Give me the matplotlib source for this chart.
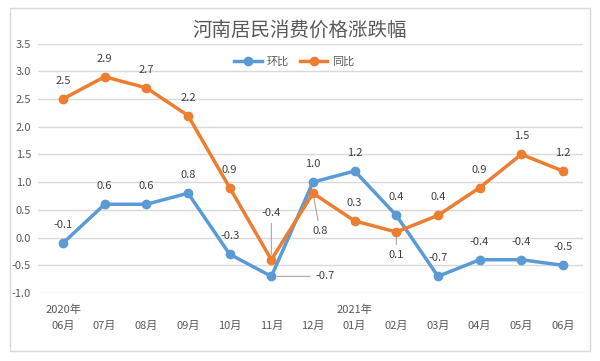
import matplotlib.pyplot as plt
from matplotlib.patches import Rectangle

plt.rcParams['font.family'] = ['Noto Sans CJK SC', 'DejaVu Sans']

# ---- data ----
months = ['06月', '07月', '08月', '09月', '10月', '11月', '12月',
          '01月', '02月', '03月', '04月', '05月', '06月']
years = {0: '2020年', 7: '2021年'}
huanbi = [-0.1, 0.6, 0.6, 0.8, -0.3, -0.7, 1.0, 1.2, 0.4, -0.7, -0.4, -0.4, -0.5]
tongbi = [2.5, 2.9, 2.7, 2.2, 0.9, -0.4, 0.8, 0.3, 0.1, 0.4, 0.9, 1.5, 1.2]

blue = '#5B9BD5'
orange = '#ED7D31'
txt = '#404040'
tick_c = '#595959'

fig = plt.figure(figsize=(6, 3.61), dpi=100)
ax = fig.add_axes([38/600, 1 - 293/361, 545/600, 249.5/361])

# outer chart border
fig.patches.append(Rectangle((10/600, 1 - 351/361), 580/600, 343/361,
                             transform=fig.transFigure, fill=False,
                             edgecolor='#d9d9d9', lw=1))

x = list(range(len(months)))
ax.plot(x, huanbi, color=blue, lw=2.5, marker='o', ms=6, label='环比', zorder=3)
ax.plot(x, tongbi, color=orange, lw=2.5, marker='o', ms=6, label='同比', zorder=3)

# data labels: default 18 px above, a few moved with leader lines
lead = dict(arrowstyle='-', color='#a6a6a6', lw=0.8, shrinkA=2, shrinkB=4)
special_t = {5: (0, 47), 6: (7, -38), 8: (0, -23)}
special_h = {5: (54, 0)}
for i, v in enumerate(tongbi):
    off = special_t.get(i, (0, 18))
    ap = lead if i in special_t else None
    ax.annotate(f'{v:.1f}', (i, v), xytext=off, textcoords='offset pixels',
                ha='center', va='center', fontsize=8, color=txt, arrowprops=ap)
for i, v in enumerate(huanbi):
    off = special_h.get(i, (0, 18))
    ap = lead if i in special_h else None
    ax.annotate(f'{v:.1f}', (i, v), xytext=off, textcoords='offset pixels',
                ha='center', va='center', fontsize=8, color=txt, arrowprops=ap)

ax.set_ylim(-1.0, 3.5)
ax.set_xlim(-0.6, 12.48)
ax.set_yticks([-1.0, -0.5, 0.0, 0.5, 1.0, 1.5, 2.0, 2.5, 3.0, 3.5])
ax.set_yticklabels([f'{t:.1f}' for t in ax.get_yticks()])
ax.set_xticks(x)
ax.set_xticklabels(months)
ax.tick_params(axis='both', length=0, labelsize=8, labelcolor=tick_c)
ax.tick_params(axis='x', pad=20)
ax.tick_params(axis='y', pad=5)
for k, y in years.items():
    ax.text(k, -1.31, y, ha='center', va='center', fontsize=8, color=tick_c,
            clip_on=False)

ax.grid(axis='y', color='#d9d9d9', lw=1)
ax.set_axisbelow(True)
for s in ax.spines.values():
    s.set_visible(False)

fig.text(0.5, 1 - 30/361, '河南居民消费价格涨跌幅', ha='center', va='center',
         fontsize=14, color=tick_c)

ax.legend(loc='center', bbox_to_anchor=(0.47, 0.926), ncol=2, frameon=False,
          fontsize=8, labelcolor=tick_c, handlelength=2.5, columnspacing=1.0,
          handletextpad=0.4)

fig.savefig('out.png', dpi=100)
